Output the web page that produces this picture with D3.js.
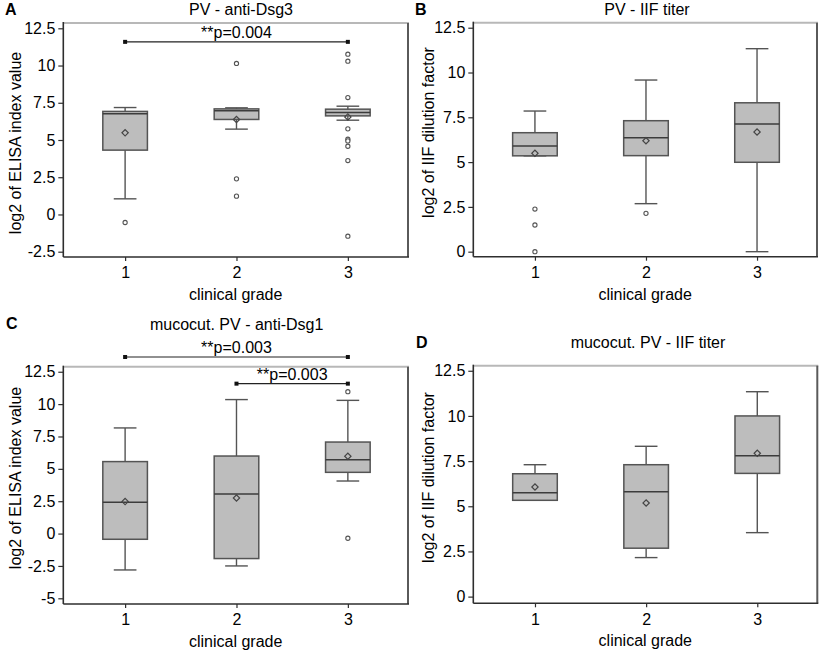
<!DOCTYPE html>
<html>
<head>
<meta charset="utf-8">
<script src="https://cdn.jsdelivr.net/npm/d3@7"></script>
<style>
  html, body { margin: 0; padding: 0; background: #fff; }
  svg { display: block; font-family: "Liberation Sans", Arial, sans-serif; }
</style>
</head>
<body>
<svg id="chart" width="820" height="650"></svg>
<script>
// ---------------- DATA ----------------
const grades = [1, 2, 3];
const gradeLabels = ["1", "2", "3"];
const xAxisTitle = "clinical grade";

// Panel A: PV - anti-Dsg3 (log2 ELISA index value)
const dsg3WhiskerLow  = [1.05, 5.73, 6.33];
const dsg3Q1          = [4.32, 6.38, 6.62];
const dsg3Median      = [6.76, 6.96, 6.85];
const dsg3Q3          = [6.92, 7.09, 7.07];
const dsg3WhiskerHigh = [7.18, 7.16, 7.27];
const dsg3Mean        = [5.48, 6.38, 6.55];
const dsg3Outliers    = [[-0.54], [10.14, 2.39, 1.23], [10.76, 10.29, 7.85, 5.75, 5.05, 4.94, 4.58, 3.62, -1.46]];
const dsg3TickValues  = [-2.5, 0, 2.5, 5, 7.5, 10, 12.5];
const dsg3TickLabels  = ["-2.5", "0", "2.5", "5", "7.5", "10", "12.5"];

// Panel B: PV - IIF titer (log2 IIF dilution factor)
const iifWhiskerLow  = [5.35, 2.68, 0.0];
const iifQ1          = [5.35, 5.36, 4.99];
const iifMedian      = [5.90, 6.36, 7.13];
const iifQ3          = [6.64, 7.31, 8.31];
const iifWhiskerHigh = [7.85, 9.58, 11.33];
const iifMean        = [5.49, 6.19, 6.68];
const iifOutliers    = [[2.38, 1.49, 0.0], [2.14], []];
const iifTickValues  = [0, 2.5, 5, 7.5, 10, 12.5];
const iifTickLabels  = ["0", "2.5", "5", "7.5", "10", "12.5"];

// Panel C: mucocut. PV - anti-Dsg1 (log2 ELISA index value)
const dsg1WhiskerLow  = [-2.81, -2.50, 4.06];
const dsg1Q1          = [-0.44, -1.93, 4.73];
const dsg1Median      = [2.42, 3.06, 5.71];
const dsg1Q3          = [5.56, 5.99, 7.07];
const dsg1WhiskerHigh = [8.16, 10.35, 10.29];
const dsg1Mean        = [2.47, 2.75, 5.97];
const dsg1Outliers    = [[], [], [10.96, -0.36]];
const dsg1TickValues  = [-5, -2.5, 0, 2.5, 5, 7.5, 10, 12.5];
const dsg1TickLabels  = ["-5", "-2.5", "0", "2.5", "5", "7.5", "10", "12.5"];

// Panel D: mucocut. PV - IIF titer (log2 IIF dilution factor)
const mcIifWhiskerLow  = [5.33, 2.16, 3.54];
const mcIifQ1          = [5.33, 2.68, 6.82];
const mcIifMedian      = [5.75, 5.81, 7.80];
const mcIifQ3          = [6.80, 7.30, 10.00];
const mcIifWhiskerHigh = [7.30, 8.32, 11.34];
const mcIifMean        = [6.07, 5.18, 7.93];
const mcIifOutliers    = [[], [], []];
const mcIifTickValues  = [0, 2.5, 5, 7.5, 10, 12.5];
const mcIifTickLabels  = ["0", "2.5", "5", "7.5", "10", "12.5"];

// Significance brackets
const dsg3SigFrom = [1], dsg3SigTo = [3], dsg3SigY = [11.59], dsg3SigLabel = ["**p=0.004"];
const dsg1SigFrom = [1, 2], dsg1SigTo = [3, 3], dsg1SigY = [13.64, 11.58], dsg1SigLabel = ["**p=0.003", "**p=0.003"];

const panelLetters = ["A", "B", "C", "D"];
const panelTitles = ["PV - anti-Dsg3", "PV - IIF titer", "mucocut. PV - anti-Dsg1", "mucocut. PV - IIF titer"];
const panelYTitles = ["log2 of ELISA index value", "log2 of IIF dilution factor", "log2 of ELISA index value", "log2 of IIF dilution factor"];

// ---------------- BUILD PANELS ----------------
function stats(lo, q1, med, q3, hi, mean, outl) {
  return grades.map((g, i) => ({ grade: g, lo: lo[i], q1: q1[i], med: med[i], q3: q3[i], hi: hi[i], mean: mean[i], outliers: outl[i] }));
}
function sigs(from, to, y, label) {
  return from.map((f, i) => ({ from: f, to: to[i], y: y[i], label: label[i] }));
}

const panels = [
  { data: stats(dsg3WhiskerLow, dsg3Q1, dsg3Median, dsg3Q3, dsg3WhiskerHigh, dsg3Mean, dsg3Outliers),
    ticks: dsg3TickValues, tickLabels: dsg3TickLabels, sig: sigs(dsg3SigFrom, dsg3SigTo, dsg3SigY, dsg3SigLabel),
    layout: { x0: 63.3, x1: 408, y0: 23, y1: 257, yDomain: [-2.856, 12.856], titleX: 241, titleY: 15, letterX: 5, letterY: 14.5, ylabX: 15, ylabY: 143 } },
  { data: stats(iifWhiskerLow, iifQ1, iifMedian, iifQ3, iifWhiskerHigh, iifMean, iifOutliers),
    ticks: iifTickValues, tickLabels: iifTickLabels, sig: [],
    layout: { x0: 473.3, x1: 817, y0: 22.7, y1: 256.7, yDomain: [-0.28, 12.78], titleX: 647, titleY: 15, letterX: 415, letterY: 14.5, ylabX: 428.5, ylabY: 132.5 } },
  { data: stats(dsg1WhiskerLow, dsg1Q1, dsg1Median, dsg1Q3, dsg1WhiskerHigh, dsg1Mean, dsg1Outliers),
    ticks: dsg1TickValues, tickLabels: dsg1TickLabels, sig: sigs(dsg1SigFrom, dsg1SigTo, dsg1SigY, dsg1SigLabel),
    layout: { x0: 63.3, x1: 408, y0: 366.7, y1: 604, yDomain: [-5.44, 12.89], titleX: 236.7, titleY: 330, letterX: 6, letterY: 329, ylabX: 15, ylabY: 478 } },
  { data: stats(mcIifWhiskerLow, mcIifQ1, mcIifMedian, mcIifQ3, mcIifWhiskerHigh, mcIifMean, mcIifOutliers),
    ticks: mcIifTickValues, tickLabels: mcIifTickLabels, sig: [],
    layout: { x0: 473.3, x1: 817.3, y0: 365.7, y1: 603.3, yDomain: [-0.37, 12.78], titleX: 648, titleY: 348, letterX: 416, letterY: 348, ylabX: 428.5, ylabY: 477.5 } }
];

// ---------------- STYLE ----------------
const boxFill = "#bdbdbd", boxStroke = "#545454", axisColor = "#2e2e2e";
const boxW = 44.6, capW = 22.7;

const svg = d3.select("#chart");

panels.forEach((p, pi) => {
  const L = p.layout;
  const x = d3.scaleLinear().domain([0.445, 3.54]).range([L.x0, L.x1]);
  const y = d3.scaleLinear().domain(L.yDomain).range([L.y1, L.y0]);
  const g = svg.append("g");

  // frame: top (light) and right (dark)
  g.append("line").attr("x1", L.x0).attr("x2", L.x1 + 1).attr("y1", L.y0).attr("y2", L.y0)
    .attr("stroke", "#b8b8b8").attr("stroke-width", 2);
  g.append("line").attr("x1", L.x1).attr("x2", L.x1).attr("y1", L.y0).attr("y2", L.y1)
    .attr("stroke", "#5a5a5a").attr("stroke-width", 2);

  // boxes
  const bx = g.selectAll("g.box").data(p.data).enter().append("g").attr("class", "box");
  // whiskers
  bx.append("line").attr("x1", d => x(d.grade)).attr("x2", d => x(d.grade))
    .attr("y1", d => y(d.q3)).attr("y2", d => y(d.hi)).attr("stroke", boxStroke).attr("stroke-width", 1.4);
  bx.append("line").attr("x1", d => x(d.grade)).attr("x2", d => x(d.grade))
    .attr("y1", d => y(d.q1)).attr("y2", d => y(d.lo)).attr("stroke", boxStroke).attr("stroke-width", 1.4);
  bx.append("line").attr("x1", d => x(d.grade) - capW / 2).attr("x2", d => x(d.grade) + capW / 2)
    .attr("y1", d => y(d.hi)).attr("y2", d => y(d.hi)).attr("stroke", boxStroke).attr("stroke-width", 1.4);
  bx.append("line").attr("x1", d => x(d.grade) - capW / 2).attr("x2", d => x(d.grade) + capW / 2)
    .attr("y1", d => y(d.lo)).attr("y2", d => y(d.lo)).attr("stroke", boxStroke).attr("stroke-width", 1.4);
  // box
  bx.append("rect").attr("x", d => x(d.grade) - boxW / 2).attr("width", boxW)
    .attr("y", d => y(d.q3)).attr("height", d => Math.max(0.5, y(d.q1) - y(d.q3)))
    .attr("fill", boxFill).attr("stroke", boxStroke).attr("stroke-width", 1.5);
  // median
  bx.append("line").attr("x1", d => x(d.grade) - boxW / 2).attr("x2", d => x(d.grade) + boxW / 2)
    .attr("y1", d => y(d.med)).attr("y2", d => y(d.med)).attr("stroke", "#3c3c3c").attr("stroke-width", 1.5);
  // mean diamond
  const dsym = d3.symbol().type(d3.symbolSquare).size(20);
  bx.append("path").attr("d", dsym)
    .attr("transform", d => `translate(${x(d.grade)},${y(d.mean)}) rotate(45)`)
    .attr("fill", "none").attr("stroke", "#454545").attr("stroke-width", 1.2);
  // outliers
  bx.selectAll("circle").data(d => d.outliers.map(v => ({ grade: d.grade, v }))).enter().append("circle")
    .attr("cx", d => x(d.grade)).attr("cy", d => y(d.v)).attr("r", 2.1)
    .attr("fill", "#fff").attr("stroke", "#555").attr("stroke-width", 1.1);

  // axes
  const yAxis = d3.axisLeft(y).tickValues(p.ticks).tickSize(5).tickPadding(3)
    .tickFormat((d, i) => p.tickLabels[i]);
  const ya = g.append("g").attr("transform", `translate(${L.x0},0)`).call(yAxis);
  const xAxis = d3.axisBottom(x).tickValues(grades).tickSize(4).tickPadding(6)
    .tickFormat((d, i) => gradeLabels[i]);
  const xa = g.append("g").attr("transform", `translate(0,${L.y1})`).call(xAxis);
  [ya, xa].forEach(a => {
    a.select(".domain").remove();
    a.selectAll(".tick line").attr("stroke", axisColor).attr("stroke-width", 1.2);
    a.selectAll(".tick text").attr("fill", "#000").style("font-size", "16px")
      .style("font-family", "'Liberation Sans', Arial, sans-serif");
  });
  // axis lines
  g.append("line").attr("x1", L.x0).attr("x2", L.x0).attr("y1", L.y0 - 1).attr("y2", L.y1)
    .attr("stroke", axisColor).attr("stroke-width", 1.6);
  g.append("line").attr("x1", L.x0).attr("x2", L.x1 + 1).attr("y1", L.y1).attr("y2", L.y1)
    .attr("stroke", axisColor).attr("stroke-width", 1.6);

  // significance brackets
  p.sig.forEach(s => {
    g.append("line").attr("x1", x(s.from)).attr("x2", x(s.to)).attr("y1", y(s.y)).attr("y2", y(s.y))
      .attr("stroke", "#222").attr("stroke-width", 1.2);
    [s.from, s.to].forEach(v => {
      g.append("rect").attr("x", x(v) - 2).attr("y", y(s.y) - 2).attr("width", 4).attr("height", 4).attr("fill", "#111");
    });
    g.append("text").attr("x", (x(s.from) + x(s.to)) / 2).attr("y", y(s.y) - 4)
      .attr("text-anchor", "middle").style("font-size", "16px").attr("fill", "#000").text(s.label);
  });

  // titles and labels
  g.append("text").attr("x", L.titleX).attr("y", L.titleY).attr("text-anchor", "middle")
    .style("font-size", "16px").attr("fill", "#000").text(panelTitles[pi]);
  g.append("text").attr("x", L.letterX).attr("y", L.letterY)
    .style("font-size", "16px").style("font-weight", "bold").attr("fill", "#000").text(panelLetters[pi]);
  g.append("text").attr("x", (L.x0 + L.x1) / 2).attr("y", L.y1 + 43).attr("text-anchor", "middle")
    .style("font-size", "16px").attr("fill", "#000").text(xAxisTitle);
  g.append("text").attr("transform", `translate(${L.ylabX},${L.ylabY}) rotate(-90)`)
    .attr("text-anchor", "middle").attr("dy", "0.35em")
    .style("font-size", "16px").attr("fill", "#000").text(panelYTitles[pi]);
});
</script>
</body>
</html>
